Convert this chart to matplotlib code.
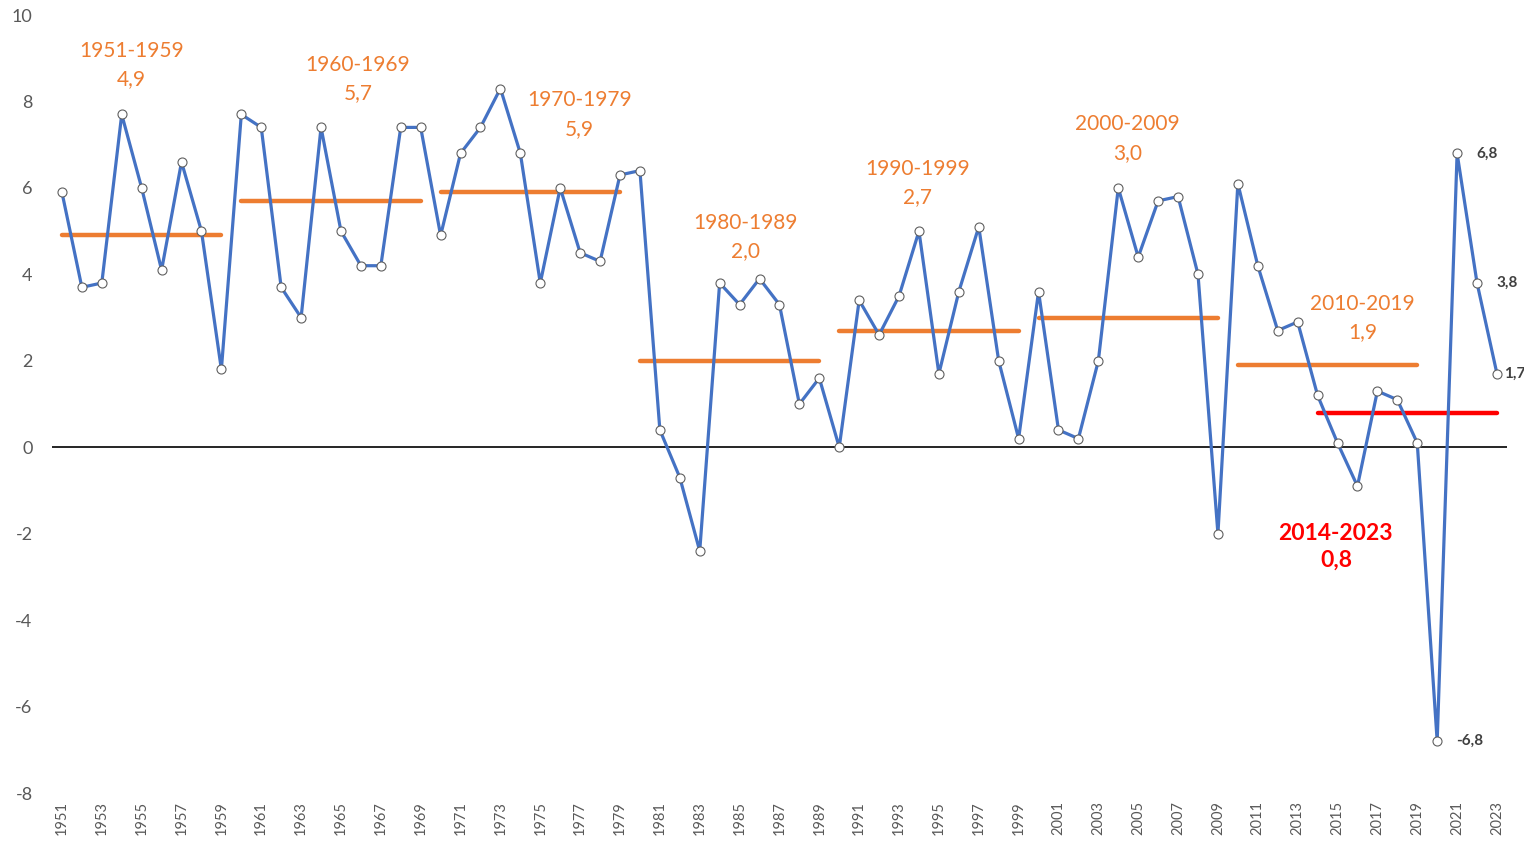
import numpy as np
import matplotlib
matplotlib.use("Agg")
import matplotlib.pyplot as plt

plt.rcParams['font.family'] = ['Lato', 'DejaVu Sans']

years = list(range(1951, 2024))
values = [
    5.9, 3.7, 3.8, 7.7, 6.0, 4.1, 6.6, 5.0, 1.8,            # 1951-1959
    7.7, 7.4, 3.7, 3.0, 7.4, 5.0, 4.2, 4.2, 7.4, 7.4,       # 1960-1969
    4.9, 6.8, 7.4, 8.3, 6.8, 3.8, 6.0, 4.5, 4.3, 6.3,       # 1970-1979
    6.4, 0.4, -0.7, -2.4, 3.8, 3.3, 3.9, 3.3, 1.0, 1.6,     # 1980-1989
    0.0, 3.4, 2.6, 3.5, 5.0, 1.7, 3.6, 5.1, 2.0, 0.2,       # 1990-1999
    3.6, 0.4, 0.2, 2.0, 6.0, 4.4, 5.7, 5.8, 4.0, -2.0,      # 2000-2009
    6.1, 4.2, 2.7, 2.9, 1.2, 0.1, -0.9, 1.3, 1.1, 0.1,      # 2010-2019
    -6.8, 6.8, 3.8, 1.7,                                    # 2020-2023
]

# decade averages
period_starts = [1951, 1960, 1970, 1980, 1990, 2000, 2010]
period_ends = [1959, 1969, 1979, 1989, 1999, 2009, 2019]
period_means = [4.9, 5.7, 5.9, 2.0, 2.7, 3.0, 1.9]
period_text_pos = [(1954.5, 8.84), (1965.85, 8.52), (1976.95, 7.69), (1985.3, 4.86),
                   (1993.95, 6.11), (2004.45, 7.15), (2016.25, 2.99)]

recent_start, recent_end, recent_mean = 2014, 2023, 0.8
labelled_years = [2020, 2021, 2022, 2023]
label_offsets = [14, 14, 14, 5]

blue = '#4472C4'
orange = '#ED7D31'
red = '#FF0000'
grey = '#595959'


def fmt(v):
    return f"{v:.1f}".replace('.', ',')


fig = plt.figure(figsize=(15.24, 8.44), dpi=100)
ax = fig.add_axes([0.0341, 0.0604, 0.9547, 0.9218])

ax.axhline(0, color='black', lw=1.2, zorder=1)

for s, e, m, (tx, ty) in zip(period_starts, period_ends, period_means, period_text_pos):
    ax.plot([s, e], [m, m], color=orange, lw=3.2, solid_capstyle='round', zorder=2)
    ax.text(tx, ty, f"{s}-{e}\n{fmt(m)}", color=orange, fontsize=15,
            ha='center', va='center', linespacing=1.55)

ax.plot([recent_start, recent_end], [recent_mean, recent_mean], color=red, lw=3.2,
        solid_capstyle='round', zorder=2)
ax.text(2014.92, -2.31, f"{recent_start}-{recent_end}\n{fmt(recent_mean)}", color=red,
        fontsize=16.5, fontweight='bold', ha='center', va='center', linespacing=1.35)

ax.plot(years, values, color=blue, lw=2.3, marker='o', markersize=6.5,
        markerfacecolor='white', markeredgecolor='#606060', markeredgewidth=0.8, zorder=3)

for y, off in zip(labelled_years, label_offsets):
    v = values[years.index(y)]
    ax.annotate(fmt(v), (y, v), xytext=(off, 0), textcoords='offset points',
                fontsize=11, fontweight='bold', color='#404040', va='center',
                annotation_clip=False)

ax.set_xlim(1950.5, 2023.5)
ax.set_ylim(-8, 10)
ax.set_yticks(np.arange(-8, 11, 2))
ax.set_yticklabels([str(t) for t in range(-8, 11, 2)])
ax.set_xticks(years[::2])
ax.set_xticklabels([str(y) for y in years[::2]], rotation=90)
ax.tick_params(axis='y', length=0, labelsize=13, labelcolor=grey, pad=14)
ax.tick_params(axis='x', length=0, labelsize=10.5, labelcolor=grey, pad=6)
for sp in ax.spines.values():
    sp.set_visible(False)

fig.savefig('out.png', dpi=100)
